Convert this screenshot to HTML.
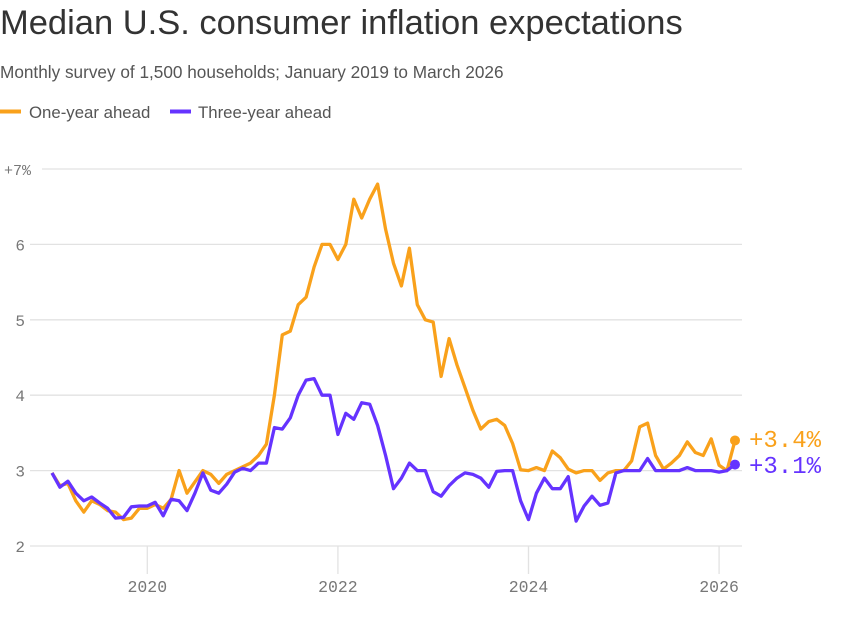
<!DOCTYPE html>
<html><head><style>
body{margin:0;background:#fff;width:864px;height:625px;overflow:hidden;font-family:"Liberation Sans",sans-serif}
</style></head><body>
<svg id="s" width="864" height="625" xmlns="http://www.w3.org/2000/svg">
<text x="0" y="34" font-size="34.5" fill="#333" font-family="Liberation Sans,sans-serif">Median U.S. consumer inflation expectations</text>
<text x="0" y="78" font-size="17.2" fill="#555" font-family="Liberation Sans,sans-serif">Monthly survey of 1,500 households; January 2019 to March 2026</text>
<rect x="0" y="109.5" width="21" height="4" fill="#f9a11b"/>
<text x="29" y="118" font-size="16.8" fill="#555" font-family="Liberation Sans,sans-serif">One-year ahead</text>
<rect x="170" y="109.5" width="21" height="4" fill="#6533ff"/>
<text x="198" y="118" font-size="16.8" fill="#555" font-family="Liberation Sans,sans-serif">Three-year ahead</text>
<g id="g"></g>
</svg>
<script>
var one=[2.97,2.8,2.83,2.6,2.45,2.6,2.55,2.47,2.45,2.35,2.37,2.5,
2.5,2.55,2.5,2.62,3.0,2.7,2.85,3.0,2.95,2.83,2.95,3.0,
3.05,3.1,3.2,3.35,4.0,4.8,4.85,5.2,5.3,5.7,6.0,6.0,
5.8,6.0,6.6,6.35,6.6,6.8,6.2,5.75,5.45,5.95,5.2,5.0,
4.97,4.25,4.75,4.4,4.1,3.8,3.55,3.65,3.68,3.6,3.36,3.01,
3.0,3.04,3.0,3.26,3.17,3.02,2.97,3.0,3.0,2.87,2.97,3.0,
3.0,3.13,3.58,3.63,3.2,3.02,3.1,3.2,3.38,3.24,3.2,3.42,
3.07,3.0,3.4];
var three=[2.97,2.78,2.86,2.7,2.6,2.65,2.57,2.5,2.37,2.38,2.52,2.53,
2.53,2.58,2.4,2.62,2.6,2.47,2.7,2.97,2.74,2.7,2.82,2.98,
3.03,3.0,3.1,3.1,3.57,3.55,3.7,4.0,4.2,4.22,4.0,4.0,
3.48,3.76,3.68,3.9,3.88,3.6,3.2,2.76,2.9,3.1,3.0,3.0,
2.72,2.66,2.8,2.9,2.97,2.95,2.9,2.78,2.99,3.0,3.0,2.6,
2.35,2.7,2.9,2.76,2.76,2.92,2.33,2.53,2.66,2.54,2.57,2.97,
3.0,3.0,3.0,3.16,3.0,3.0,3.0,3.0,3.04,3.0,3.0,3.0,
2.98,3.0,3.08];
function X(i){return 52+i*95.3/12}
function Y(v){return 546-(v-2)*75.4}
var h='';
for(var v=2;v<=7;v++){h+='<line x1="'+(v==7?42:30)+'" x2="742" y1="'+Y(v)+'" y2="'+Y(v)+'" stroke="#e2e2e2" stroke-width="1.3"/>';
if(v<7)h+='<text x="25" y="'+(Y(v)+6)+'" text-anchor="end" font-size="16" fill="#777" font-family="Liberation Mono,monospace">'+v+'</text>';}
h+='<text x="4" y="175" font-size="15" fill="#777" font-family="Liberation Mono,monospace">+7%</text>';
[2020,2022,2024,2026].forEach(function(y){var x=X((y-2019)*12);h+='<line x1="'+x+'" x2="'+x+'" y1="546" y2="574" stroke="#e2e2e2" stroke-width="1.3"/><text x="'+x+'" y="592" text-anchor="middle" font-size="16.5" fill="#777" font-family="Liberation Mono,monospace">'+y+'</text>';});
function p(a,c){var d=a.map(function(v,i){return (i?'L':'M')+X(i).toFixed(1)+','+Y(v).toFixed(1)}).join('');
h+='<path d="'+d+'" fill="none" stroke="'+c+'" stroke-width="3.3" stroke-linejoin="round"/><circle cx="'+X(a.length-1)+'" cy="'+Y(a[a.length-1])+'" r="5" fill="'+c+'"/>';}
p(one,'#f9a11b');p(three,'#6533ff');
h+='<text x="749" y="447" font-size="24" fill="#f9a11b" font-family="Liberation Mono,monospace">+3.4%</text>';
h+='<text x="749" y="473" font-size="24" fill="#6533ff" font-family="Liberation Mono,monospace">+3.1%</text>';
document.getElementById('g').innerHTML=h;
</script>
</body></html>
